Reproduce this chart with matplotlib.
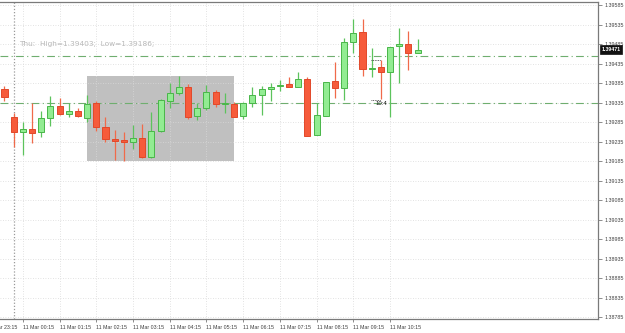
import matplotlib
matplotlib.use("Agg")
import matplotlib.pyplot as plt
import matplotlib.transforms as mtransforms
import numpy as np

# ---- data (15-minute candles, 10 Mar 23:45 .. 11 Mar 11:00) ----
opens = [1.39370, 1.39298, 1.39259, 1.39267, 1.39259, 1.39295, 1.39326, 1.39306, 1.39313, 1.39295,
         1.39334, 1.39272, 1.39241, 1.39239, 1.39234, 1.39244, 1.39195, 1.39262, 1.39339, 1.39359,
         1.39375, 1.39300, 1.39321, 1.39362, 1.39331, 1.39331, 1.39300, 1.39334, 1.39354, 1.39370,
         1.39377, 1.39382, 1.39375, 1.39395, 1.39252, 1.39300, 1.39390, 1.39372, 1.39490, 1.39516,
         1.39421, 1.39426, 1.39413, 1.39480, 1.39485, 1.39462]
highs = [1.39377, 1.39308, 1.39285, 1.39334, 1.39313, 1.39352, 1.39347, 1.39334, 1.39321, 1.39354,
         1.39339, 1.39298, 1.39264, 1.39259, 1.39277, 1.39280, 1.39311, 1.39344, 1.39385, 1.39403,
         1.39382, 1.39334, 1.39380, 1.39367, 1.39359, 1.39336, 1.39336, 1.39375, 1.39377, 1.39385,
         1.39393, 1.39400, 1.39413, 1.39400, 1.39334, 1.39388, 1.39439, 1.39500, 1.39549, 1.39549,
         1.39475, 1.39444, 1.39477, 1.39526, 1.39518, 1.39498]
lows = [1.39339, 1.39221, 1.39200, 1.39231, 1.39247, 1.39275, 1.39303, 1.39298, 1.39298, 1.39285,
        1.39262, 1.39234, 1.39188, 1.39186, 1.39216, 1.39193, 1.39193, 1.39259, 1.39321, 1.39354,
        1.39293, 1.39290, 1.39316, 1.39323, 1.39308, 1.39298, 1.39293, 1.39323, 1.39303, 1.39339,
        1.39365, 1.39375, 1.39375, 1.39249, 1.39252, 1.39300, 1.39347, 1.39341, 1.39462, 1.39403,
        1.39400, 1.39344, 1.39298, 1.39385, 1.39418, 1.39462]
closes = [1.39349, 1.39259, 1.39267, 1.39257, 1.39295, 1.39326, 1.39306, 1.39313, 1.39300, 1.39331,
          1.39272, 1.39241, 1.39236, 1.39234, 1.39244, 1.39195, 1.39262, 1.39341, 1.39359, 1.39375,
          1.39298, 1.39321, 1.39362, 1.39331, 1.39334, 1.39298, 1.39334, 1.39354, 1.39370, 1.39375,
          1.39380, 1.39375, 1.39395, 1.39249, 1.39303, 1.39388, 1.39372, 1.39490, 1.39513, 1.39421,
          1.39423, 1.39413, 1.39477, 1.39485, 1.39462, 1.39471]

tick_idx = [-2, 2, 6, 10, 14, 18, 22, 26, 30, 34, 38, 42]
tick_labels = ["10 Mar 23:15", "11 Mar 00:15", "11 Mar 01:15", "11 Mar 02:15", "11 Mar 03:15",
               "11 Mar 04:15", "11 Mar 05:15", "11 Mar 06:15", "11 Mar 07:15", "11 Mar 08:15",
               "11 Mar 09:15", "11 Mar 10:15"]
price_ticks = [1.39585, 1.39535, 1.39485, 1.39435, 1.39385, 1.39335, 1.39285, 1.39235, 1.39185,
               1.39135, 1.39085, 1.39035, 1.38985, 1.38935, 1.38885, 1.38835, 1.38785]

day_label = "Thu"
day_high = 1.39403
day_low = 1.39186
range_start, range_end = 9, 25          # candle indices spanned by the grey box
level_upper = 1.39454
level_lower = 1.39333
day_sep_idx = 1
last_price = 1.39471
mark_idx = 40
mark_text = "10:4"
mark_price = 1.39341
mark_price2 = 1.39444

FONT = ["Liberation Sans", "DejaVu Sans"]
XMIN, XMAX = -0.49, 64.65

# ---- figure ----
W, H = 625, 333
fig = plt.figure(figsize=(W / 100, H / 100), dpi=100)
fig.patch.set_facecolor("white")
ax = fig.add_axes([0, 14 / H, 598 / W, 317 / H])
ax.set_facecolor("white")

x = np.arange(len(opens))
o = np.array(opens); c = np.array(closes); h = np.array(highs); l = np.array(lows)
up = c >= o

# grid
for p in price_ticks:
    ax.axhline(p, color="#d9d9d9", lw=0.6, ls=(0, (1, 2)), zorder=2)
for t in tick_idx:
    ax.axvline(t, color="#d9d9d9", lw=0.6, ls=(0, (1, 2)), zorder=2)

# grey high/low box
ax.fill_between([range_start, range_end], day_low, day_high,
                color="#c0c0c0", lw=0, zorder=1)

# day separator
ax.axvline(day_sep_idx, color="#9a9a9a", lw=0.9, ls=(0, (1, 1.5)), zorder=2.2)

# levels
for lv in (level_upper, level_lower):
    ax.axhline(lv, color="#6fae6f", lw=0.8, ls=(0, (7, 3, 1, 3)), zorder=2.3)

# candles
g_fill, g_edge = "#92ec92", "#49b649"
r_fill, r_edge = "#f65b3b", "#e2482a"
ax.vlines(x[up], l[up], h[up], color="#5cc35c", lw=0.9, zorder=3)
ax.vlines(x[~up], l[~up], h[~up], color="#f06a4a", lw=0.9, zorder=3)
bw = 0.66
ax.bar(x[up], np.maximum(c[up] - o[up], 0.000015), bottom=o[up], width=bw,
       color=g_fill, edgecolor=g_edge, lw=0.7, zorder=4)
ax.bar(x[~up], np.maximum(o[~up] - c[~up], 0.000015), bottom=c[~up], width=bw,
       color=r_fill, edgecolor=r_edge, lw=0.7, zorder=4)

# small marks
ax.hlines([mark_price, mark_price2], mark_idx - 0.05, mark_idx + 1.05, color="#333333",
          lw=0.6, ls=(0, (1, 1)), zorder=5)
ax.text(mark_idx + 0.45, mark_price - 0.00003, mark_text, fontsize=4.3, color="#111111",
        ha="left", va="top", family=FONT, zorder=6)

# info text
ax.text(19 / 598, 1 - 42 / 317, f"{day_label}:  High={day_high:.5f};  Low={day_low:.5f};",
        transform=ax.transAxes, fontsize=5.3, color="#b8b8b8", ha="left", va="center",
        family="DejaVu Sans")

# axes styling
ax.spines["left"].set_visible(False)
for s in ("top", "right", "bottom"):
    ax.spines[s].set_color("#7a7a7a")
    ax.spines[s].set_linewidth(0.9)

ax.yaxis.tick_right()
ax.set_yticks(price_ticks)
ax.set_yticklabels([f"{p:.5f}" for p in price_ticks])
ax.tick_params(axis="y", direction="out", length=3, width=0.6, color="#7a7a7a",
               labelsize=3.8, labelcolor="#404040", pad=2)
ax.set_xticks(tick_idx)
ax.set_xticklabels(tick_labels)
ax.tick_params(axis="x", direction="out", length=2, width=0.6, color="#7a7a7a",
               labelsize=3.8, labelcolor="#404040", pad=2)
for lab in ax.get_xticklabels() + ax.get_yticklabels():
    lab.set_family(FONT)
for lab in ax.get_xticklabels():
    lab.set_horizontalalignment("left")

# view limits (set after ticks so the off-screen tick does not widen them)
ax.set_xlim(XMIN, XMAX)
ax.set_ylim(1.38780, 1.39593)

# labels whose tick lies left of the visible range are drawn cut by the canvas edge
for t, lab in zip(tick_idx, tick_labels):
    if t < XMIN:
        ax.annotate(lab, xy=(t, 0), xycoords=("data", "axes fraction"),
                    xytext=(0, -4), textcoords="offset points", ha="left", va="top",
                    fontsize=3.8, color="#404040", family=FONT, annotation_clip=False)

# current price box
trans = mtransforms.blended_transform_factory(ax.transAxes, ax.transData)
ax.text(1.006, last_price, f"{last_price:.5f}", transform=trans, fontsize=3.8, color="white",
        ha="left", va="center", family=FONT, fontweight="bold",
        bbox=dict(boxstyle="square,pad=0.3", fc="#111111", ec="#111111", lw=0.5), zorder=10,
        clip_on=False)

fig.savefig("out.png", dpi=100, facecolor="white")
